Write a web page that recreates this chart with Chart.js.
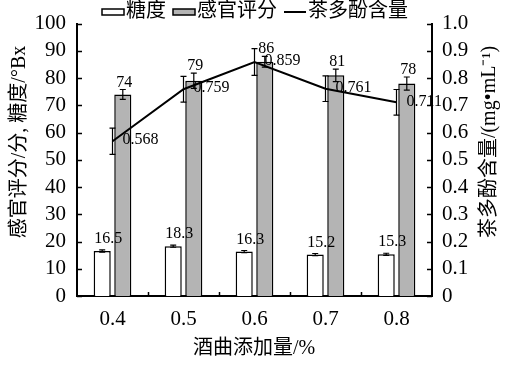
<!DOCTYPE html>
<html><head><meta charset="utf-8">
<script src="https://cdn.jsdelivr.net/npm/chart.js@4.4.0/dist/chart.umd.min.js"></script>
<style>html,body{margin:0;padding:0;background:#fff;}#wrap{width:506px;height:367px;}</style>
</head><body><div id="wrap"><canvas id="c" width="506" height="367"></canvas></div>
<script>
const categories = ['0.4', '0.5', '0.6', '0.7', '0.8'];
const sugar = [16.5, 18.3, 16.3, 15.2, 15.3];
const sugarErr = [0.4, 0.4, 0.4, 0.4, 0.4];
const sensory = [74, 79, 86, 81, 78];
const sensoryErr = [1.8, 2.8, 2.0, 2.3, 2.4];
const polyphenol = [0.568, 0.759, 0.859, 0.761, 0.711];
const polyphenolErr = [0.048, 0.047, 0.049, 0.047, 0.047];
const sugarLabels = ['16.5', '18.3', '16.3', '15.2', '15.3'];
const sensoryLabels = ['74', '79', '86', '81', '78'];
const polyLabels = ['0.568', '0.759', '0.859', '0.761', '0.711'];
const leftTicks = [0, 10, 20, 30, 40, 50, 60, 70, 80, 90, 100];
const rightTicks = [0, 0.1, 0.2, 0.3, 0.4, 0.5, 0.6, 0.7, 0.8, 0.9, 1.0];
const legendNames = ['糖度', '感官评分', '茶多酚含量'];
const xTitle = '酒曲添加量/%';
const yTitle = '感官评分/分, 糖度/°Bx';
const y1Title = '茶多酚含量/(mg•mL⁻¹)';

const SERIF = '"Liberation Serif", "Noto Sans CJK SC", serif';
const GRAY = '#b4b4b4';

const extras = {
  id: 'extras',
  afterDatasetsDraw(chart) {
    const ctx = chart.ctx;
    const y = chart.scales.y, y1 = chart.scales.y1;
    const ca = chart.chartArea;
    ctx.save();
    ctx.strokeStyle = '#000';
    ctx.fillStyle = '#000';
    ctx.lineWidth = 1.2;
    const errBar = (cx, top, bot, cap) => {
      ctx.beginPath();
      ctx.moveTo(cx, top); ctx.lineTo(cx, bot);
      ctx.moveTo(cx - cap, top); ctx.lineTo(cx + cap, top);
      ctx.moveTo(cx - cap, bot); ctx.lineTo(cx + cap, bot);
      ctx.stroke();
    };
    const m0 = chart.getDatasetMeta(0).data, m1 = chart.getDatasetMeta(1).data, m2 = chart.getDatasetMeta(2).data;
    ctx.font = '16px ' + SERIF;
    for (let i = 0; i < categories.length; i++) {
      let b = m0[i];
      let t = y.getPixelForValue(sugar[i] + sugarErr[i]), bt = y.getPixelForValue(sugar[i] - sugarErr[i]);
      errBar(b.x, t, bt, 3);
      ctx.textAlign = 'center'; ctx.textBaseline = 'alphabetic';
      ctx.fillText(sugarLabels[i], b.x + 6, t - 7);
      b = m1[i];
      t = y.getPixelForValue(sensory[i] + sensoryErr[i]); bt = y.getPixelForValue(sensory[i] - sensoryErr[i]);
      errBar(b.x, t, bt, 3);
      ctx.fillText(sensoryLabels[i], b.x + 1.5, t - 3);
      const p = m2[i];
      t = y1.getPixelForValue(polyphenol[i] + polyphenolErr[i]); bt = y1.getPixelForValue(polyphenol[i] - polyphenolErr[i]);
      errBar(p.x, t, bt, 3);
      ctx.textAlign = 'left'; ctx.textBaseline = 'middle';
      ctx.fillText(polyLabels[i], p.x + 10, p.y - 1);
    }
    ctx.lineWidth = 1.5;
    ctx.beginPath();
    leftTicks.forEach(v => { const py = Math.round(y.getPixelForValue(v)) + 0.5; ctx.moveTo(ca.left, py); ctx.lineTo(ca.left + 5, py); });
    rightTicks.forEach(v => { const py = Math.round(y1.getPixelForValue(v)) + 0.5; ctx.moveTo(ca.right, py); ctx.lineTo(ca.right - 5, py); });
    const step = (ca.right - ca.left) / categories.length;
    for (let i = 1; i < categories.length; i++) {
      const px = Math.round(ca.left + step * i) + 0.5;
      ctx.moveTo(px, ca.bottom); ctx.lineTo(px, ca.bottom - 4);
    }
    ctx.stroke();
    ctx.font = '20px ' + SERIF;
    ctx.textAlign = 'left'; ctx.textBaseline = 'middle';
    const boxW = 22, gapT = 2, gapI = 7, ly = 12;
    const widths = legendNames.map(n => ctx.measureText(n).width);
    const total = widths.reduce((a, w) => a + boxW + gapT + w, 0) + gapI * (legendNames.length - 1);
    let lx = 255 - total / 2;
    legendNames.forEach((n, i) => {
      ctx.lineWidth = 1.5;
      if (i < 2) {
        ctx.fillStyle = i === 0 ? '#fff' : GRAY;
        ctx.fillRect(lx, ly - 3, boxW, 6);
        ctx.strokeRect(lx, ly - 3, boxW, 6);
      } else {
        ctx.lineWidth = 2;
        ctx.beginPath(); ctx.moveTo(lx, ly); ctx.lineTo(lx + boxW, ly); ctx.stroke();
      }
      ctx.fillStyle = '#000';
      ctx.fillText(n, lx + boxW + gapT, ly);
      lx += boxW + gapT + widths[i] + gapI;
    });
    ctx.textAlign = 'center'; ctx.textBaseline = 'middle';
    ctx.fillText(xTitle, 254, 349);
    ctx.save(); ctx.translate(20, 142); ctx.rotate(-Math.PI / 2); ctx.fillText(yTitle, 0, 0); ctx.restore();
    ctx.save(); ctx.translate(490, 142); ctx.rotate(-Math.PI / 2); ctx.fillText(y1Title, 0, 0); ctx.restore();
    ctx.restore();
  }
};

const tickFont = { family: SERIF, size: 21 };
new Chart(document.getElementById('c'), {
  type: 'bar',
  data: {
    labels: categories,
    datasets: [
      { label: legendNames[0], data: sugar, backgroundColor: '#fff', borderColor: '#000', borderWidth: 1.5, yAxisID: 'y', barPercentage: 0.83, categoryPercentage: 0.58, order: 1 },
      { label: legendNames[1], data: sensory, backgroundColor: GRAY, borderColor: '#000', borderWidth: 1.5, yAxisID: 'y', barPercentage: 0.83, categoryPercentage: 0.58, order: 1 },
      { type: 'line', label: legendNames[2], data: polyphenol, borderColor: '#000', borderWidth: 2, pointRadius: 0, tension: 0, fill: false, yAxisID: 'y1', order: 0 }
    ]
  },
  options: {
    responsive: false, animation: false, devicePixelRatio: 1,
    layout: { padding: { top: 20, left: 0, right: 0, bottom: 0 } },
    plugins: { legend: { display: false }, tooltip: { enabled: false } },
    scales: {
      x: {
        grid: { display: false, drawTicks: false },
        border: { display: true, color: '#000', width: 2 },
        ticks: { font: tickFont, color: '#000', padding: 11, autoSkip: false, maxRotation: 0 },
        afterFit: s => { s.height = 71; }
      },
      y: {
        position: 'left', min: 0, max: 100,
        grid: { display: false, drawTicks: false },
        border: { display: true, color: '#000', width: 2 },
        ticks: { stepSize: 10, font: tickFont, color: '#000', padding: 11, autoSkip: false },
        afterFit: s => { s.width = 77; }
      },
      y1: {
        position: 'right', min: 0, max: 1,
        grid: { display: false, drawTicks: false },
        border: { display: true, color: '#000', width: 2 },
        ticks: { stepSize: 0.1, font: tickFont, color: '#000', padding: 10, autoSkip: false, callback: v => (v === 0 ? '0' : v.toFixed(1)) },
        afterFit: s => { s.width = 74; }
      }
    }
  },
  plugins: [extras]
});
</script></body></html>
